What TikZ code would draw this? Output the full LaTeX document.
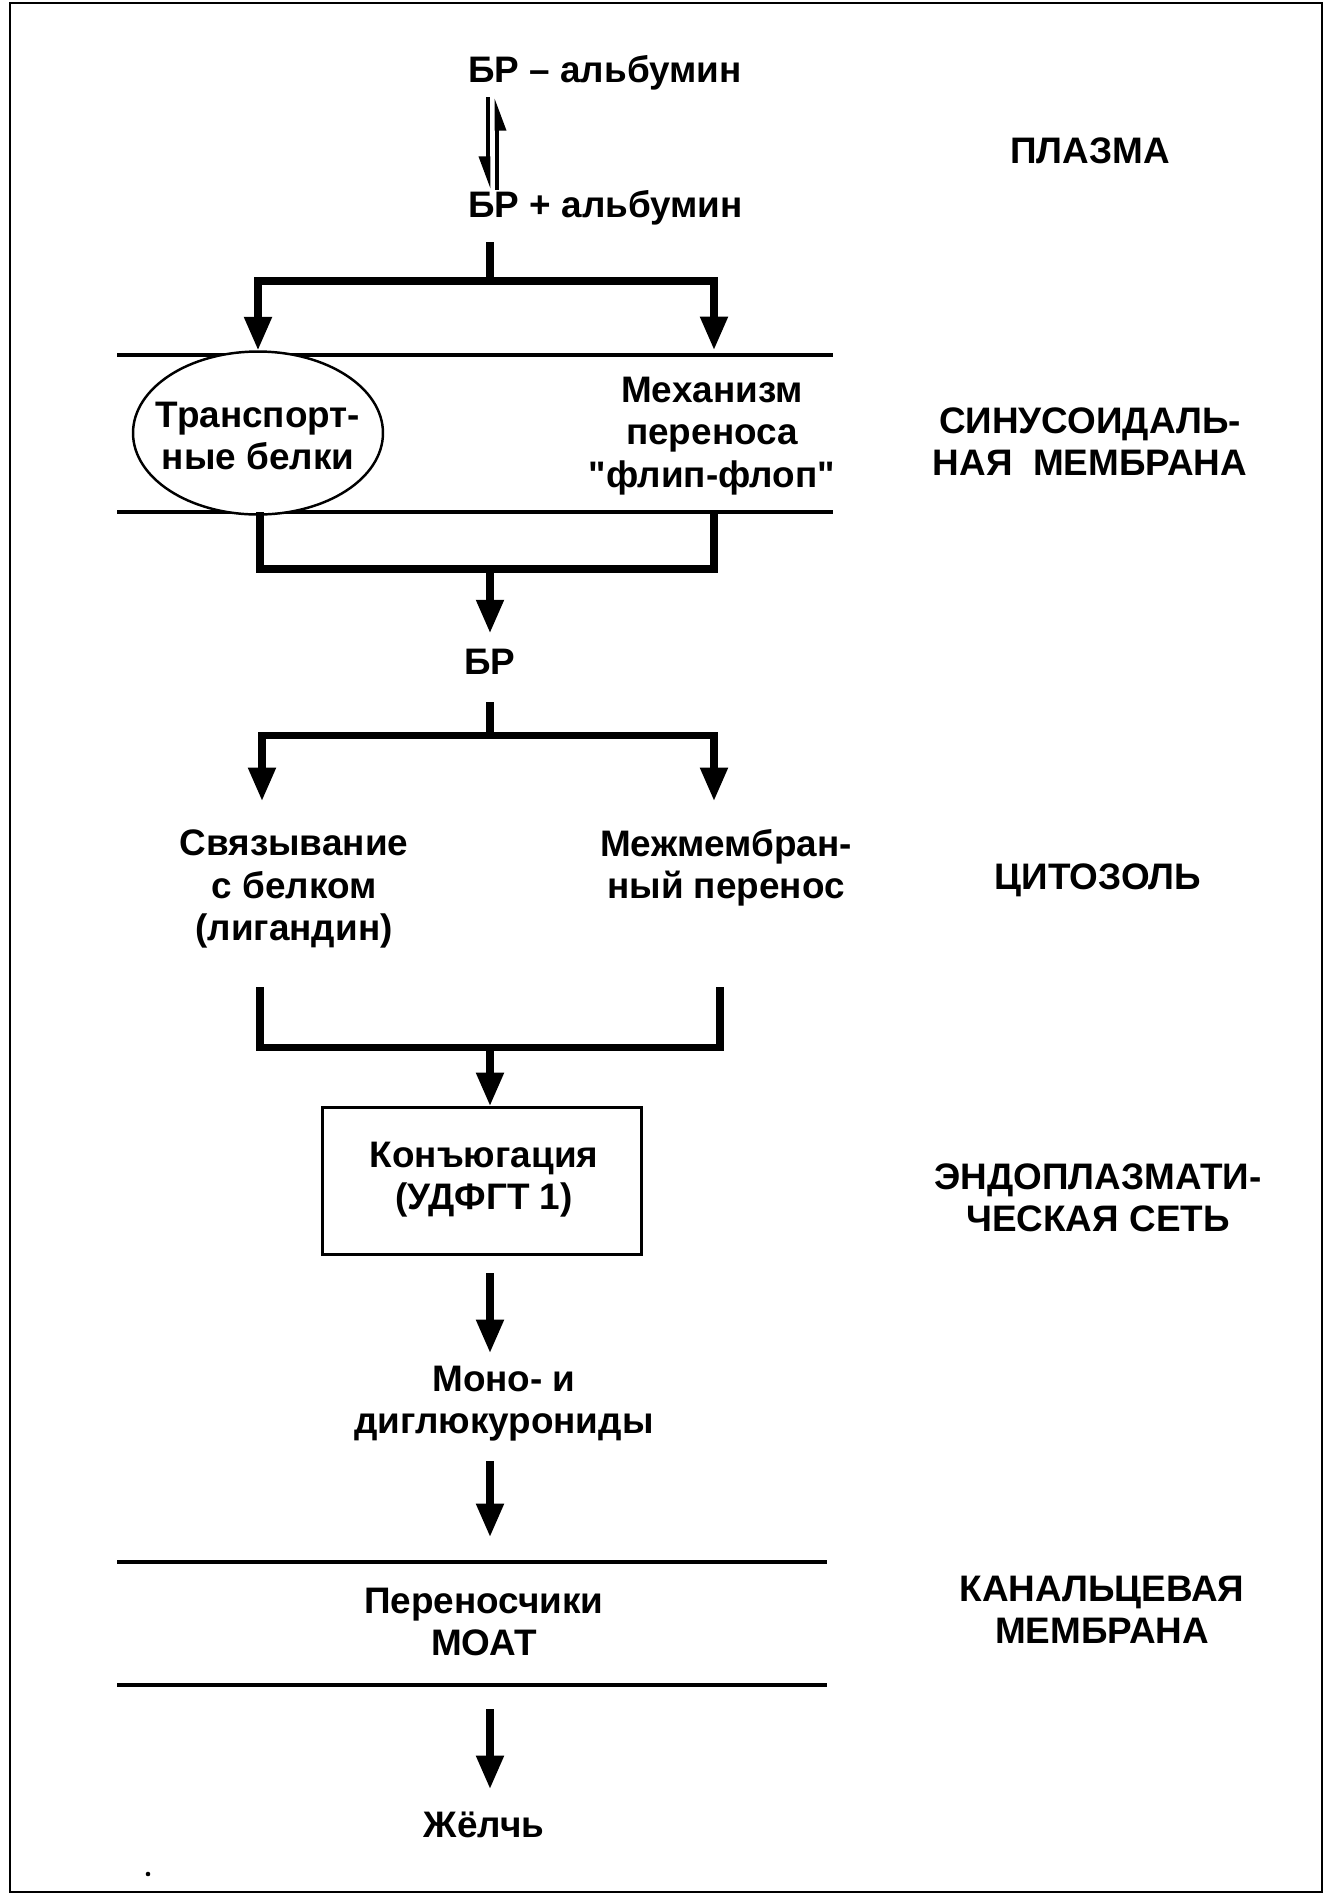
\documentclass[tikz,border=0pt]{standalone}
\usepackage{fontspec}
\setmainfont{Liberation Sans}[Ligatures=TeXOff]
\usetikzlibrary{arrows.meta,shapes.geometric}

\begin{document}
\begin{tikzpicture}[x=0.02cm,y=-0.02cm,
    every node/.style={font=\fontsize{21}{24}\selectfont\bfseries, align=center, inner sep=0pt},
    flow/.style={line width=4pt},
    flowarrow/.style={flow, -{Triangle[width=15pt,length=19pt]}},
    eqarrow/.style={line width=2.8pt, -{Triangle[right,width=10pt,length=15pt]}},
    membrane/.style={line width=2pt},
    zone/.style={}]
  \useasboundingbox (0,0) rectangle (1334,1898);
  \draw [line width=1.5pt] (10,3) rectangle (1322,1892);

  % plasma
  \node [anchor=west] (bra) at (468,73) {БР – альбумин};
  \node [anchor=west] (brfree) at (468,208) {БР + альбумин};
  \node [zone] (plasma) at (1090,151) {ПЛАЗМА};
  \coordinate (eqa) at (488,97);
  \coordinate (eqb) at (488,190);
  \coordinate (eqc) at (497,190);
  \coordinate (eqd) at (497,97);
  \draw [eqarrow] (eqa) -- (eqb);
  \draw [eqarrow] (eqc) -- (eqd);

  % sinusoidal membrane
  \coordinate (m1a) at (117,355);
  \coordinate (m1b) at (833,355);
  \coordinate (m1c) at (117,512);
  \coordinate (m1d) at (833,512);
  \draw [membrane] (m1a) -- (m1b);
  \draw [membrane] (m1c) -- (m1d);
  \node [ellipse, draw, fill=white, line width=1.4pt, minimum width=5cm, minimum height=3.26cm] (tp) at (258,433) {};
  \node (tptext) at (258,436) {Транспорт-\\ные белки};
  \node (flip) at (712,436) {Механизм\\переноса\\"флип-флоп"};
  \node [zone] (sinus) at (1090,442) {СИНУСОИДАЛЬ-\\НАЯ\ \ МЕМБРАНА};

  \coordinate (s1a) at (490,242);
  \coordinate (s1) at (490,281);
  \coordinate (flipin) at (714,350);
  \draw [flow] (s1a) -- (s1);
  \draw [flowarrow] (s1) -| (tp.north);
  \draw [flowarrow] (s1) -| (flipin);

  \coordinate (j1l) at (260,512);
  \coordinate (j1r) at (714,512);
  \coordinate (j1) at (490,569);
  \draw [flow] (j1l) |- (j1) -| (j1r);

  % cytosol
  \node (br) at (490,662) {БР};
  \draw [flowarrow, shorten >=9pt] (j1) -- (br.north);
  \coordinate (s2a) at (490,702);
  \coordinate (s2) at (490,735);
  \coordinate (bindin) at (262,801);
  \coordinate (interin) at (714,801);
  \draw [flow] (s2a) -- (s2);
  \draw [flowarrow] (s2) -| (bindin);
  \draw [flowarrow] (s2) -| (interin);
  \node (bind) at (294,889) {Связывание\\с белком\\(лигандин)};
  \node (inter) at (726,868) {Межмембран-\\ный перенос};
  \node [zone] (cyto) at (1098,880) {ЦИТОЗОЛЬ};

  \coordinate (j2l) at (260,987);
  \coordinate (j2r) at (720,987);
  \coordinate (j2) at (490,1047);
  \draw [flow] (j2l) |- (j2) -| (j2r);

  % endoplasmic reticulum
  \node [draw, line width=1.7pt, minimum width=6.38cm, minimum height=2.94cm] (conj) at (482,1181) {};
  \node (conjtext) at (484,1180) {Конъюгация\\(УДФГТ 1)};
  \node [zone] (er) at (1098,1198) {ЭНДОПЛАЗМАТИ-\\ЧЕСКАЯ СЕТЬ};
  \draw [flowarrow] (j2) -- (j2 |- conj.north);

  \coordinate (c1) at (490,1273);
  \coordinate (c2) at (490,1353);
  \draw [flowarrow] (c1) -- (c2);
  \node (gluc) at (504,1404) {Моно- и\\диглюкурониды};
  \coordinate (g1) at (490,1461);
  \coordinate (g2) at (490,1537);
  \draw [flowarrow] (g1) -- (g2);

  % canalicular membrane
  \coordinate (m2a) at (117,1562);
  \coordinate (m2b) at (827,1562);
  \coordinate (m2c) at (117,1685);
  \coordinate (m2d) at (827,1685);
  \draw [membrane] (m2a) -- (m2b);
  \draw [membrane] (m2c) -- (m2d);
  \node (moat) at (484,1622) {Переносчики\\МОАТ};
  \node [zone] (canal) at (1102,1610) {КАНАЛЬЦЕВАЯ\\МЕМБРАНА};
  \coordinate (b1) at (490,1709);
  \coordinate (b2) at (490,1789);
  \draw [flowarrow] (b1) -- (b2);
  \node (bile) at (484,1825) {Жёлчь};

  \fill (148,1874) circle (1.3pt);
\end{tikzpicture}
\end{document}
